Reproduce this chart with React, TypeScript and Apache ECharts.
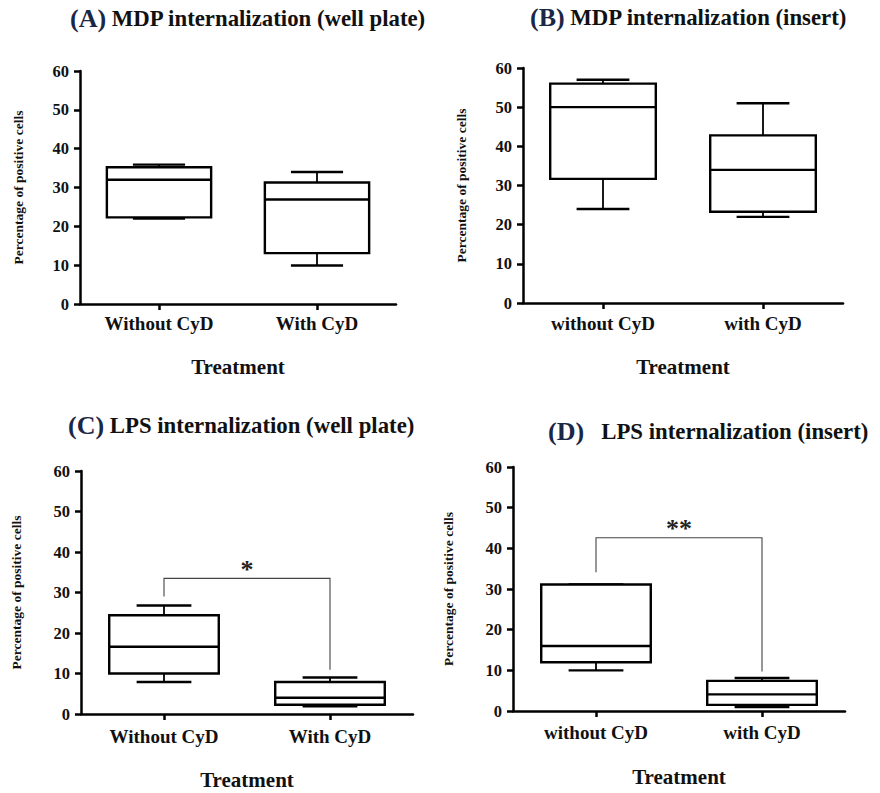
import React, { useEffect, useRef } from "react";
import * as echarts from "echarts";

// Category labels
const categoriesWell = ["Without CyD", "With CyD"];
const categoriesInsert = ["without CyD", "with CyD"];

// Box statistics: [min, Q1, median, Q3, max]
const mdpWellWithout = [22, 22.3, 32, 35.2, 35.9];
const mdpWellWith = [9.9, 13.1, 26.9, 31.3, 34];
const mdpInsertWithout = [24, 31.7, 50, 56, 57];
const mdpInsertWith = [22, 23.3, 34, 42.8, 51];
const lpsWellWithout = [7.9, 10, 16.6, 24.4, 26.8];
const lpsWellWith = [1.9, 2.3, 4, 7.9, 9];
const lpsInsertWithout = [10, 12, 16, 31.1, 31.1];
const lpsInsertWith = [1, 1.5, 4.1, 7.4, 8.1];

// Significance brackets: [left end, bar height, right end]
const lpsWellSig = [29, 33.5, 10.9];
const lpsInsertSig = [34.1, 42.6, 9.7];
const sigLabels = ["*", "**"];

// Axis settings
const yMin = 0;
const yMax = 60;
const yInterval = 10;

const titlesLetter = ["(A)", "(B)", "(C)", "(D)"];
const titlesText = [
  "MDP internalization (well plate)",
  "MDP internalization (insert)",
  "LPS internalization (well plate)",
  "LPS internalization (insert)",
];

const SERIF = "Liberation Serif";

const panels = [
  { grid: { left: 80, top: 71, width: 316, height: 233 }, cats: categoriesWell, a: mdpWellWithout, b: mdpWellWith, sig: null, sigLabel: "", title: { left: 70, top: 3 }, gap: " ", yGap: 55, xGap: 52, xMargin: 10 },
  { grid: { left: 523, top: 68, width: 320, height: 235 }, cats: categoriesInsert, a: mdpInsertWithout, b: mdpInsertWith, sig: null, sigLabel: "", title: { left: 530, top: 2 }, gap: " ", yGap: 55, xGap: 53, xMargin: 11 },
  { grid: { left: 81, top: 471, width: 332, height: 243 }, cats: categoriesWell, a: lpsWellWithout, b: lpsWellWith, sig: lpsWellSig, sigLabel: sigLabels[0], title: { left: 68, top: 410 }, gap: " ", yGap: 58, xGap: 55, xMargin: 13 },
  { grid: { left: 513, top: 467, width: 332, height: 244 }, cats: categoriesInsert, a: lpsInsertWithout, b: lpsInsertWith, sig: lpsInsertSig, sigLabel: sigLabels[1], title: { left: 548, top: 416 }, gap: "   ", yGap: 58, xGap: 55, xMargin: 12 },
];

function renderBox(params: any, api: any) {
  const x = api.value(0);
  const vMin = api.value(1);
  const vQ1 = api.value(2);
  const vMed = api.value(3);
  const vQ3 = api.value(4);
  const vMax = api.value(5);
  const band = api.size([1, 0])[0];
  const bw = band * 0.66;
  const cw = bw * 0.5;
  const pMin = api.coord([x, vMin]);
  const pQ1 = api.coord([x, vQ1]);
  const pMed = api.coord([x, vMed]);
  const pQ3 = api.coord([x, vQ3]);
  const pMax = api.coord([x, vMax]);
  const cx = pMin[0];
  const stroke = "#000";
  return {
    type: "group",
    children: [
      { type: "line", shape: { x1: cx, y1: pQ3[1], x2: cx, y2: pMax[1] }, style: { stroke, lineWidth: 1.8 } },
      { type: "line", shape: { x1: cx, y1: pQ1[1], x2: cx, y2: pMin[1] }, style: { stroke, lineWidth: 1.8 } },
      { type: "line", shape: { x1: cx - cw / 2, y1: pMax[1], x2: cx + cw / 2, y2: pMax[1] }, style: { stroke, lineWidth: 2.4 } },
      { type: "line", shape: { x1: cx - cw / 2, y1: pMin[1], x2: cx + cw / 2, y2: pMin[1] }, style: { stroke, lineWidth: 2.4 } },
      { type: "rect", shape: { x: cx - bw / 2, y: pQ3[1], width: bw, height: pQ1[1] - pQ3[1] }, style: { fill: "#fff", stroke, lineWidth: 2.4 } },
      { type: "line", shape: { x1: cx - bw / 2, y1: pMed[1], x2: cx + bw / 2, y2: pMed[1] }, style: { stroke, lineWidth: 2.4 } },
    ],
  };
}

function makeSigRenderer(label: string) {
  return function (params: any, api: any) {
    const left = api.value(1);
    const bar = api.value(2);
    const right = api.value(3);
    const p1 = api.coord([0, left]);
    const p2 = api.coord([0, bar]);
    const p3 = api.coord([1, bar]);
    const p4 = api.coord([1, right]);
    return {
      type: "group",
      children: [
        { type: "polyline", shape: { points: [p1, p2, p3, p4] }, style: { stroke: "#444", lineWidth: 1.1, fill: null } },
        {
          type: "text",
          x: (p2[0] + p3[0]) / 2,
          y: p2[1] - 9,
          style: { text: label, fontSize: 26, fontWeight: "bold", fontFamily: SERIF, fill: "#222", align: "center", verticalAlign: "middle" },
        },
      ],
    };
  };
}

export default function App() {
  const ref = useRef<HTMLDivElement>(null);
  useEffect(() => {
    document.body.style.margin = "0";
    if (!ref.current) return;
    const chart = echarts.init(ref.current, null, { renderer: "svg" });

    const axisLineStyle = { color: "#000", width: 2.5 };
    const grids: any[] = [];
    const xAxes: any[] = [];
    const yAxes: any[] = [];
    const series: any[] = [];
    const titles: any[] = [];

    panels.forEach((p, i) => {
      grids.push({ ...p.grid, containLabel: false });
      xAxes.push({
        gridIndex: i,
        type: "category",
        data: p.cats,
        boundaryGap: true,
        name: "Treatment",
        nameLocation: "middle",
        nameGap: p.xGap,
        nameTextStyle: { fontFamily: SERIF, fontWeight: "bold", fontSize: 21, color: "#111" },
        axisLine: { show: true, lineStyle: axisLineStyle },
        axisTick: { show: true, alignWithLabel: true, length: 6, lineStyle: axisLineStyle },
        axisLabel: { margin: p.xMargin, fontFamily: SERIF, fontWeight: "bold", fontSize: 19, color: "#111" },
        splitLine: { show: false },
      });
      yAxes.push({
        gridIndex: i,
        type: "value",
        min: yMin,
        max: yMax,
        interval: yInterval,
        name: "Percentage of positive cells",
        nameLocation: "middle",
        nameGap: p.yGap,
        nameTextStyle: { fontFamily: SERIF, fontWeight: "bold", fontSize: 13.5, color: "#111" },
        axisLine: { show: true, lineStyle: axisLineStyle },
        axisTick: { show: true, length: 6, lineStyle: axisLineStyle },
        axisLabel: { margin: 11, fontFamily: SERIF, fontWeight: "bold", fontSize: 16.5, color: "#111" },
        splitLine: { show: false },
      });
      series.push({
        type: "custom",
        xAxisIndex: i,
        yAxisIndex: i,
        renderItem: renderBox,
        encode: { x: 0, y: [1, 2, 3, 4, 5] },
        data: [
          [0, ...p.a],
          [1, ...p.b],
        ],
        clip: false,
        silent: true,
      });
      if (p.sig) {
        series.push({
          type: "custom",
          xAxisIndex: i,
          yAxisIndex: i,
          renderItem: makeSigRenderer(p.sigLabel),
          encode: { x: 0, y: [1, 2, 3] },
          data: [[0, ...p.sig]],
          clip: false,
          silent: true,
        });
      }
      titles.push({
        left: p.title.left,
        top: p.title.top,
        padding: 0,
        text: "{a|" + titlesLetter[i] + "}{b|" + p.gap + titlesText[i] + "}",
        textStyle: {
          rich: {
            a: { fontFamily: SERIF, fontWeight: "bold", fontSize: 26, color: "#1b2747", lineHeight: 30 },
            b: { fontFamily: SERIF, fontWeight: "bold", fontSize: 22.8, color: "#111", lineHeight: 30 },
          },
        },
      });
    });

    chart.setOption({
      animation: false,
      backgroundColor: "#fff",
      title: titles,
      grid: grids,
      xAxis: xAxes,
      yAxis: yAxes,
      series,
    });
    return () => chart.dispose();
  }, []);
  return <div ref={ref} style={{ width: 880, height: 793 }} />;
}
